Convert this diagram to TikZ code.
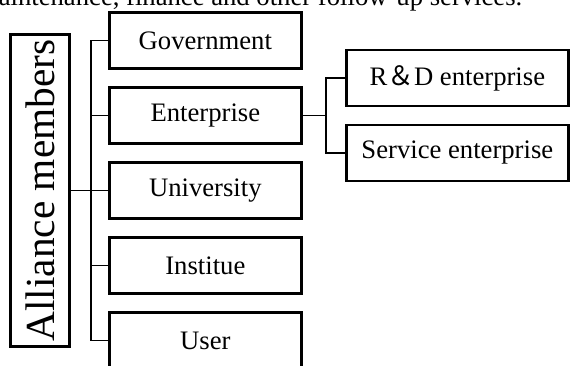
\documentclass[tikz,border=0pt]{standalone}
\usepackage{fontspec}
\setmainfont{Liberation Serif}
\newfontfamily\cjk{Noto Sans CJK SC}
\usetikzlibrary{trees}

\begin{document}
\begin{tikzpicture}
[
    x=0.75pt, y=-0.75pt,
    font=\fontsize{20}{24}\selectfont,
    grow'=right,
    every child node/.style={draw, line width=2pt},
    edge from parent/.style={draw, line width=1.2pt},
    level 1/.style={level distance=124pt, sibling distance=56.25pt,
        edge from parent path={(\tikzparentnode.east) -- +(15.4pt,0) |- (\tikzchildnode.west)}},
    level 2/.style={level distance=189pt, sibling distance=56.25pt,
        edge from parent path={(\tikzparentnode.east) -- +(17.6pt,0) |- (\tikzchildnode.west)}},
    member/.style={minimum width=144pt, minimum height=42pt},
    subtype/.style={minimum width=166.5pt, minimum height=42pt},
]
\useasboundingbox (0,0) rectangle (571,365);
\node [anchor=base east] (note) at (527,5) {maintenance, finance and other follow-up services.};
\node [draw, line width=2pt, minimum width=44pt, minimum height=234pt] (alliance) at (40,190.5)
{\fontsize{31}{36}\selectfont\rotatebox{90}{Alliance members}} 
    child {node[member] (gov) {Government}}
    child {node[member] (ent) {Enterprise}
        child {node[subtype] (rd) {R{\cjk ＆}D enterprise}}
        child {node[subtype] (serv) {Service enterprise}}}
    child {node[member] (uni) {University}}
    child {node[member] (inst) {Institue}}
    child {node[member] (user) {User}};
\end{tikzpicture}
\end{document}
